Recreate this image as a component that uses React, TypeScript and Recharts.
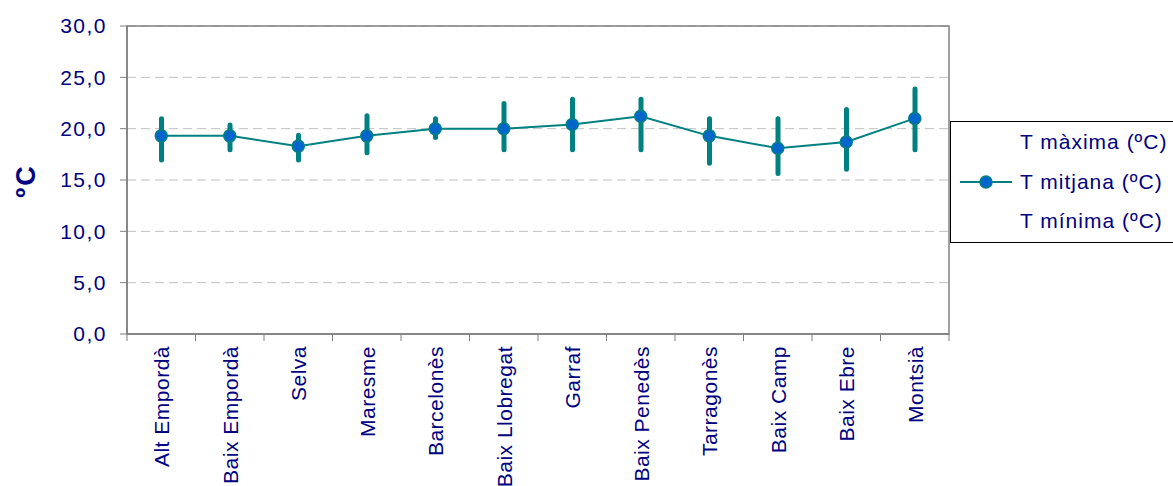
import React from 'react';
import { ComposedChart, Bar, Line, XAxis, YAxis, CartesianGrid, ReferenceArea } from 'recharts';

const categories = ['Alt Empordà', 'Baix Empordà', 'Selva', 'Maresme', 'Barcelonès', 'Baix Llobregat', 'Garraf', 'Baix Penedès', 'Tarragonès', 'Baix Camp', 'Baix Ebre', 'Montsià'];
const tMax = [21.2, 20.6, 19.6, 21.5, 21.2, 22.7, 23.1, 23.1, 21.2, 21.2, 22.1, 24.1];
const tMean = [19.3, 19.3, 18.3, 19.3, 20.0, 20.0, 20.4, 21.2, 19.3, 18.1, 18.7, 21.0];
const tMin = [16.7, 17.7, 16.7, 17.4, 18.9, 17.7, 17.7, 17.7, 16.4, 15.4, 15.8, 17.7];
const yTicks = [0, 5, 10, 15, 20, 25, 30];
const legendLabels = ['T màxima (ºC)', 'T mitjana (ºC)', 'T mínima (ºC)'];

const data = categories.map((c, i) => ({ name: c, range: [tMin[i], tMax[i]], mean: tMean[i] }));

const NAVY = '#000080';
const TEAL = '#008080';
const BLUE = '#0066CC';
const FONT = '"Liberation Sans", Arial, sans-serif';

const W = 1173;
const H = 486;
const PL = 127;
const PR = 949;
const PT = 26;
const PB = 334;
const BAND = (PR - PL) / categories.length;

const XTick = (props: any) => {
  const { x, payload, index } = props;
  const left = x - BAND / 2;
  return (
    <g>
      <line x1={left} y1={PB} x2={left} y2={PB + 7} stroke="#808080" strokeWidth={1} />
      {index === categories.length - 1 && (
        <line x1={x + BAND / 2} y1={PB} x2={x + BAND / 2} y2={PB + 7} stroke="#808080" strokeWidth={1} />
      )}
      <text
        x={x + 8}
        y={PB + 12}
        transform={`rotate(-90 ${x + 8} ${PB + 12})`}
        textAnchor="end"
        fill={NAVY}
        fontSize={21}
        letterSpacing={0.5}
        fontFamily={FONT}
      >
        {payload.value}
      </text>
    </g>
  );
};

const LegendBox = () => (
  <div
    style={{
      position: 'absolute',
      left: 950,
      top: 121,
      width: 240,
      height: 122,
      border: '1px solid #000',
      background: '#fff',
      boxSizing: 'border-box',
      fontFamily: FONT,
    }}
  >
    {legendLabels.map((l, i) => (
      <div
        key={l}
        style={{
          position: 'absolute',
          left: 69,
          top: 7 + i * 39.5,
          fontSize: 21,
          letterSpacing: 1,
          color: NAVY,
          whiteSpace: 'nowrap',
          lineHeight: '26px',
        }}
      >
        {l}
      </div>
    ))}
    <svg style={{ position: 'absolute', left: 9, top: 50 }} width={56} height={20}>
      <line x1={0} y1={10} x2={52} y2={10} stroke={TEAL} strokeWidth={2} />
      <circle cx={26} cy={10} r={6} fill={BLUE} stroke={TEAL} strokeWidth={1.5} />
    </svg>
  </div>
);

export default function App() {
  return (
    <div style={{ position: 'absolute', left: 0, top: 0, width: W, height: H, background: '#fff', overflow: 'hidden' }}>
      <ComposedChart
        width={W}
        height={H}
        data={data}
        margin={{ top: PT, right: W - PR, left: 0, bottom: 0 }}
        style={{ fontFamily: FONT }}
      >
        <CartesianGrid vertical={false} stroke="#c0c0c0" strokeDasharray="9 5" />
        <ReferenceArea y1={0} y2={30} fill="none" stroke="#808080" strokeWidth={1.5} ifOverflow="visible" />
        <XAxis
          dataKey="name"
          height={H - PB}
          interval={0}
          tickLine={false}
          axisLine={{ stroke: '#808080', strokeWidth: 1.5 }}
          tick={<XTick />}
        />
        <YAxis
          width={PL}
          domain={[0, 30]}
          ticks={yTicks}
          interval={0}
          tickSize={7}
          tickMargin={13}
          tickLine={{ stroke: '#808080' }}
          axisLine={{ stroke: '#808080', strokeWidth: 1.5 }}
          tickFormatter={(v: number) => v.toFixed(1).replace('.', ',')}
          tick={{ fill: NAVY, fontSize: 21, letterSpacing: 1.5, fontFamily: FONT }}
          label={{
            content: () => (
              <text
                x={26}
                y={181}
                transform="rotate(-90 26 181)"
                textAnchor="middle"
                dominantBaseline="central"
                fill={NAVY}
                fontSize={27}
                fontWeight="bold"
                letterSpacing={2}
                fontFamily={FONT}
              >
                ºC
              </text>
            ),
          }}
        />
        <Bar dataKey="range" barSize={5} fill={TEAL} radius={2.5} isAnimationActive={false} />
        <Line
          dataKey="mean"
          stroke={TEAL}
          strokeWidth={2}
          dot={{ r: 6, fill: BLUE, stroke: TEAL, strokeWidth: 1.5 }}
          activeDot={false}
          isAnimationActive={false}
        />
      </ComposedChart>
      <LegendBox />
    </div>
  );
}
